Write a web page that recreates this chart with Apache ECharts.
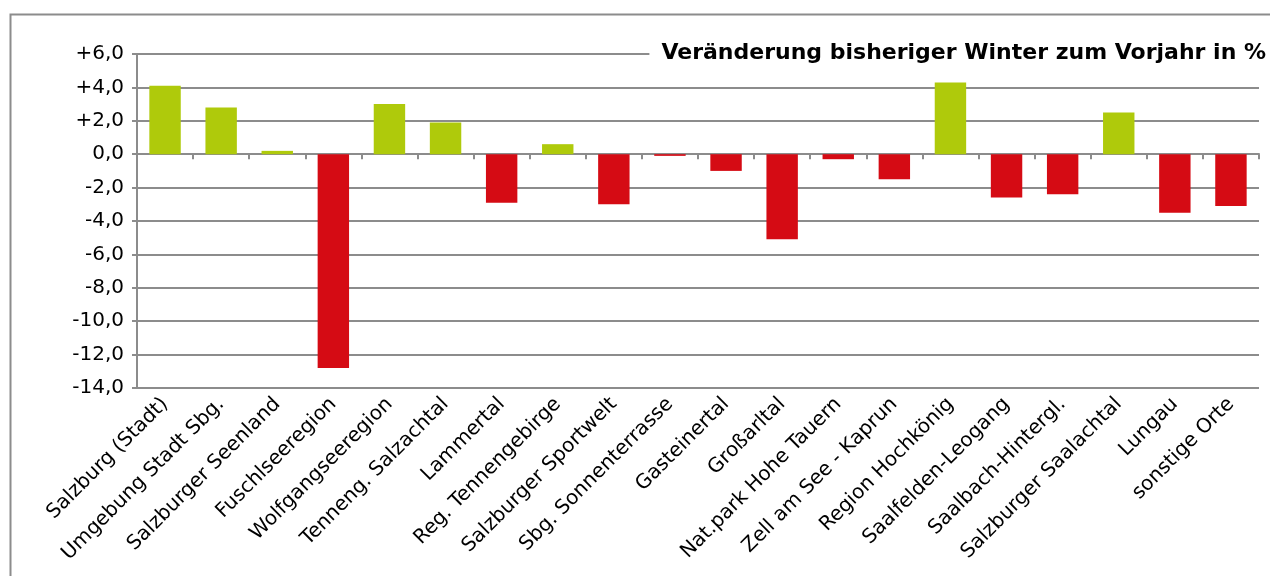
<!DOCTYPE html>
<html><head><meta charset="utf-8">
<script src="https://cdn.jsdelivr.net/npm/echarts@6/dist/echarts.min.js"></script>
<style>html,body{margin:0;padding:0;background:#fff}#c{width:1270px;height:576px}</style>
</head><body><div id="c"></div>
<script>
const categories = ["Salzburg (Stadt)","Umgebung Stadt Sbg.","Salzburger Seenland","Fuschlseeregion","Wolfgangseeregion","Tenneng. Salzachtal","Lammertal","Reg. Tennengebirge","Salzburger Sportwelt","Sbg. Sonnenterrasse","Gasteinertal","Großarltal","Nat.park Hohe Tauern","Zell am See - Kaprun","Region Hochkönig","Saalfelden-Leogang","Saalbach-Hintergl.","Salzburger Saalachtal","Lungau","sonstige Orte"];
const values = [4.1,2.8,0.2,-12.8,3.0,1.9,-2.9,0.6,-3.0,-0.1,-1.0,-5.1,-0.3,-1.5,4.3,-2.6,-2.4,2.5,-3.5,-3.1];
const titleText = "Veränderung bisheriger Winter zum Vorjahr in %";
const yMin = -14, yMax = 6, yStep = 2;
const posColor = "#afca0b", negColor = "#d50b14";
const FONT = "DejaVu Sans";

const chart = echarts.init(document.getElementById('c'), null, {renderer:'canvas'});
chart.setOption({
  animation:false,
  backgroundColor:'#fff',
  title:{text:titleText,right:4,top:40,padding:[2,0,2,12],backgroundColor:'#fff',
    textStyle:{fontFamily:FONT,fontSize:22,fontWeight:'bold',color:'#000'}},
  graphic:[{type:'rect',left:8,top:12,shape:{width:1300,height:620},
    style:{fill:'none',stroke:'#8c8c8c',lineWidth:2},z:-1}],
  grid:{left:137,right:11,top:54,bottom:188,containLabel:false},
  xAxis:[
    {type:'category',data:categories,position:'bottom',
     axisLine:{show:true,onZero:true,lineStyle:{color:'#8c8c8c',width:2}},
     axisTick:{show:true,interval:0,length:5,lineStyle:{color:'#8c8c8c',width:2}},
     axisLabel:{show:false},splitLine:{show:false}},
    {type:'category',data:categories,position:'bottom',gridIndex:0,
     axisLine:{show:false,onZero:false},axisTick:{show:false},
     axisLabel:{show:true,rotate:45,interval:0,margin:13,fontFamily:FONT,fontSize:20,color:'#000'},
     splitLine:{show:false}}
  ],
  yAxis:{type:'value',min:yMin,max:yMax,interval:yStep,
    axisLine:{show:true,lineStyle:{color:'#8c8c8c',width:2}},
    axisTick:{show:true,length:5,lineStyle:{color:'#8c8c8c',width:2}},
    axisLabel:{margin:13,fontFamily:FONT,fontSize:20,color:'#000',
      formatter:v=>(v>0?'+':'')+v.toFixed(1).replace('.',',')},
    splitLine:{show:true,lineStyle:{color:'#8c8c8c',width:2}}},
  series:[{type:'bar',xAxisIndex:0,barWidth:'56%',
    data:values.map(v=>({value:v,itemStyle:{color:v>=0?posColor:negColor}}))}]
});
</script></body></html>
